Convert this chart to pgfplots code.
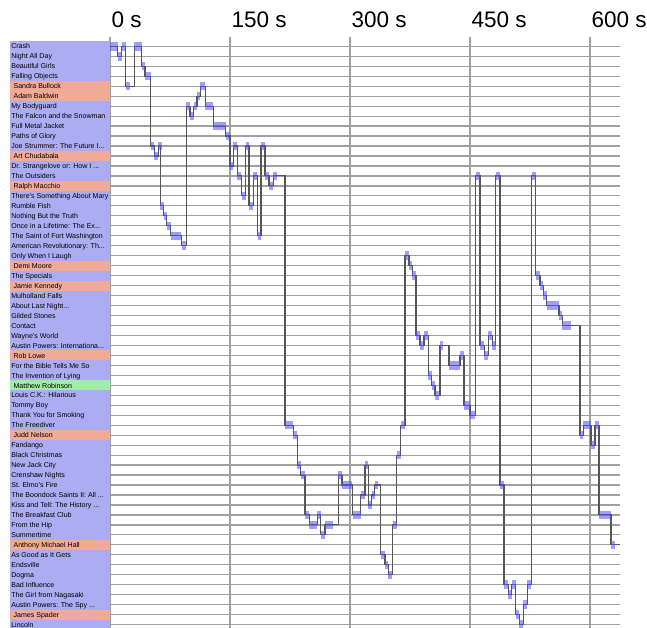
\documentclass[border=0pt]{standalone}
\usepackage{fontspec}
\setmainfont{Liberation Sans}
\usepackage{pgfplots}
\usepackage{pgfplotstable}
\pgfplotsset{compat=1.18}
\definecolor{lav}{RGB}{172,172,242}
\definecolor{sal}{RGB}{242,170,152}
\definecolor{grn}{RGB}{160,236,170}
\definecolor{gridgray}{RGB}{160,160,160}
\definecolor{pathgray}{RGB}{85,85,85}
\definecolor{blk}{RGB}{80,80,240}
\setlength{\fboxsep}{0pt}
\newcommand{\LabB}[1]{\colorbox{lav}{\makebox[100pt][l]{\rule[-2.3pt]{0pt}{9.97pt}\hspace{1.5pt}#1}}}
\newcommand{\LabP}[1]{\colorbox{sal}{\makebox[100pt][l]{\rule[-2.3pt]{0pt}{9.97pt}\hspace{3.8pt}#1}}}
\newcommand{\LabG}[1]{\colorbox{grn}{\makebox[100pt][l]{\rule[-2.3pt]{0pt}{9.97pt}\hspace{3.8pt}#1}}}
\pgfplotstableread{
t r w
0 0 9.6
9.6 1 5
14.6 0 5
19.6 4 5
30.4 0 9.2
39.6 2 4.2
43.8 3 7
50.8 10 4.6
55.4 11 5
60.4 10 4
63 16 4
67 17 4
71 18 5
76 19 13
89.5 20 5.5
95.5 6 4.5
100 7 4.6
104.6 6 4.2
108.8 5 4.1
112.9 4 6.2
119.2 6 9.6
129 8 15.5
144.6 9 5
150 12 4.2
154.2 10 5
159.2 13 5
164.6 15 5
169.6 10 4
173.75 16 5
179.2 13 5
184.6 19 4
188.75 10 5
193.75 13 5
198.75 14 5
204.2 13 4.5
218.75 38 10.4
229.2 39 4.5
234 42 4.3
238.3 43 5
243.75 47 5
249.2 48 9
259.2 47 4
263.3 49 5
268.75 48 10
285.4 43 4.5
290 44 12.5
303.3 47 10
313.3 45 5
318.75 42 4.2
323 46 4
327 45 4
331 44 4
338.3 51 5
343.75 52 4.2
347.9 53 5
353.3 48 5
358.3 41 5
363.3 38 5
368.75 21 5
373.75 22 4.2
378 23 4.5
382.5 29 5
387.5 30 5
392.5 29 5
398 33 4
402 34 4.2
406.25 35 5
412.5 30 4
423.75 32 13.75
437.5 31 5
442.5 36 7.5
450 37 6
457 13 5
462.5 30 5
468 31 5
473 29 5
478 30 4
482 13 5
487.5 44 5
492.5 54 5.5
498 55 4
502 54 5
507 57 4.7
511.7 58 5
516.7 56 5
521.7 54 5
527 13 5
532 23 5
537.5 24 4.2
541.7 25 4.3
546 26 15
561.25 27 4.2
565.4 28 10.4
587.5 39 4.2
591.7 38 9.6
601.25 40 5
606.25 38 5
611.25 47 15
626.25 50 5
637.5 50 0
}\pdata
\begin{document}
\begin{tikzpicture}
\path[use as bounding box] (0,0) rectangle (647pt,-628pt);
\begin{axis}[
  at={(110pt,-37pt)}, anchor=north west,
  scale only axis, width=510pt, height=591pt,
  xmin=0, xmax=637.5, ymin=-0.933, ymax=58.34, y dir=reverse,
  xtick={0,150,300,450,600},
  xticklabels={0 s,150 s,300 s,450 s,600 s},
  xticklabel pos=upper,
  ytick={0,...,58},
  yticklabels={\LabB{Crash},\LabB{Night All Day},\LabB{Beautiful Girls},\LabB{Falling Objects},\LabP{Sandra Bullock},\LabP{Adam Baldwin},\LabB{My Bodyguard},\LabB{The Falcon and the Snowman},\LabB{Full Metal Jacket},\LabB{Paths of Glory},\LabB{Joe Strummer: The Future I...},\LabP{Art Chudabala},\LabB{Dr. Strangelove or: How I ...},\LabB{The Outsiders},\LabP{Ralph Macchio},\LabB{There's Something About Mary},\LabB{Rumble Fish},\LabB{Nothing But the Truth},\LabB{Once in a Lifetime: The Ex...},\LabB{The Saint of Fort Washington},\LabB{American Revolutionary: Th...},\LabB{Only When I Laugh},\LabP{Demi Moore},\LabB{The Specials},\LabP{Jamie Kennedy},\LabB{Mulholland Falls},\LabB{About Last Night...},\LabB{Gilded Stones},\LabB{Contact},\LabB{Wayne's World},\LabB{Austin Powers: Internationa...},\LabP{Rob Lowe},\LabB{For the Bible Tells Me So},\LabB{The Invention of Lying},\LabG{Matthew Robinson},\LabB{Louis C.K.: Hilarious},\LabB{Tommy Boy},\LabB{Thank You for Smoking},\LabB{The Freediver},\LabP{Judd Nelson},\LabB{Fandango},\LabB{Black Christmas},\LabB{New Jack City},\LabB{Crenshaw Nights},\LabB{St. Elmo's Fire},\LabB{The Boondock Saints II: All ...},\LabB{Kiss and Tell: The History ...},\LabB{The Breakfast Club},\LabB{From the Hip},\LabB{Summertime},\LabP{Anthony Michael Hall},\LabB{As Good as It Gets},\LabB{Endsville},\LabB{Dogma},\LabB{Bad Influence},\LabB{The Girl from Nagasaki},\LabB{Austin Powers: The Spy ...},\LabP{James Spader},\LabB{Lincoln}},
  grid=major,
  major grid style={draw=gridgray, line width=1.2pt},
  major tick length=0pt,
  axis line style={draw=none},
  xticklabel style={anchor=base west, inner sep=0pt, font=\fontsize{22.5}{22.5}\selectfont, xshift=1.5pt, yshift=10pt},
  yticklabel style={anchor=east, inner sep=0pt, font=\fontsize{7.05}{8}\selectfont},
]
\addplot[const plot mark left, draw=pathgray, line width=1.1pt, mark=none] table[x=t,y=r] \pdata;
\addplot[draw=none, mark=none, error bars/.cd, x dir=plus, x explicit, error mark=none,
  error bar style={draw=blk, line width=8.5pt, draw opacity=0.55}]
  table[x=t, y=r, x error=w] \pdata;
\end{axis}
\end{tikzpicture}
\end{document}
